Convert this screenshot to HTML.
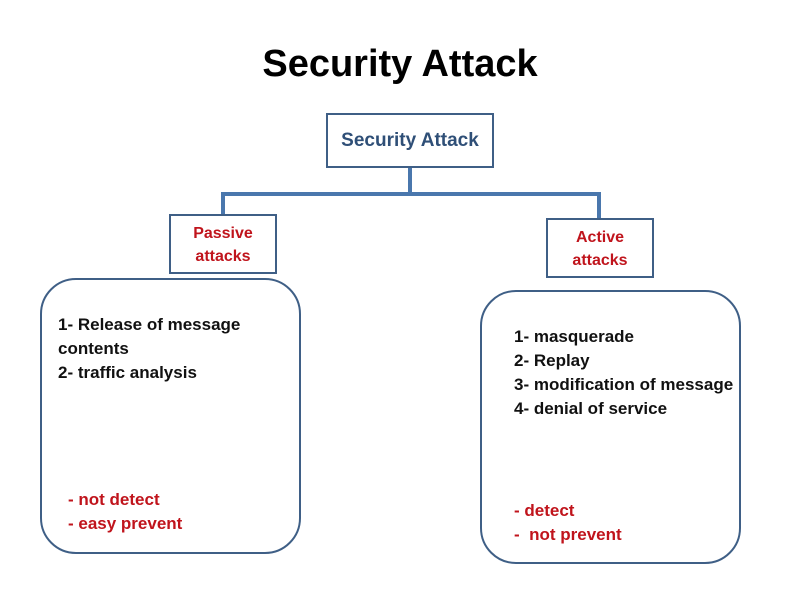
<!DOCTYPE html>
<html><head><style>
body{margin:0;background:#fff;}
.c{position:relative;width:800px;height:600px;overflow:hidden;font-family:"Liberation Sans",sans-serif;font-weight:bold;}
.a{position:absolute;}
.box{position:absolute;border:2px solid #3f5f86;box-sizing:border-box;background:#fff;}
.t{position:absolute;font-size:17px;line-height:24px;color:#111;white-space:nowrap;}
.r{color:#c0141c;}
</style></head><body><div class="c">
<div class="a" style="left:0;width:800px;top:43px;text-align:center;font-size:38px;color:#000;">Security Attack</div>
<div class="a" style="left:408px;top:166px;width:4px;height:30px;background:#4a77ad"></div>
<div class="a" style="left:221px;top:192px;width:380px;height:4px;background:#4a77ad"></div>
<div class="a" style="left:221px;top:192px;width:4px;height:24px;background:#4a77ad"></div>
<div class="a" style="left:597px;top:192px;width:4px;height:28px;background:#4a77ad"></div>
<div class="box" style="left:326px;top:113px;width:168px;height:55px;text-align:center;line-height:51px;font-size:19px;color:#2f4f77;">Security Attack</div>
<div class="box" style="left:169px;top:214px;width:108px;height:60px;text-align:center;padding-top:6px;line-height:23px;font-size:16px;color:#c0141c;">Passive<br>attacks</div>
<div class="box" style="left:546px;top:218px;width:108px;height:60px;text-align:center;padding-top:6px;line-height:23px;font-size:16px;color:#c0141c;">Active<br>attacks</div>
<div class="box" style="left:40px;top:278px;width:261px;height:276px;border-radius:36px;"></div>
<div class="box" style="left:480px;top:290px;width:261px;height:274px;border-radius:36px;"></div>
<div class="t" style="left:58px;top:313px;">1- Release of message<br>contents<br>2- traffic analysis</div>
<div class="t r" style="left:68px;top:488px;">- not detect<br>- easy prevent</div>
<div class="t" style="left:514px;top:325px;">1- masquerade<br>2- Replay<br>3- modification of message<br>4- denial of service</div>
<div class="t r" style="left:514px;top:499px;">- detect<br>-&nbsp; not prevent</div>
</div></body></html>
